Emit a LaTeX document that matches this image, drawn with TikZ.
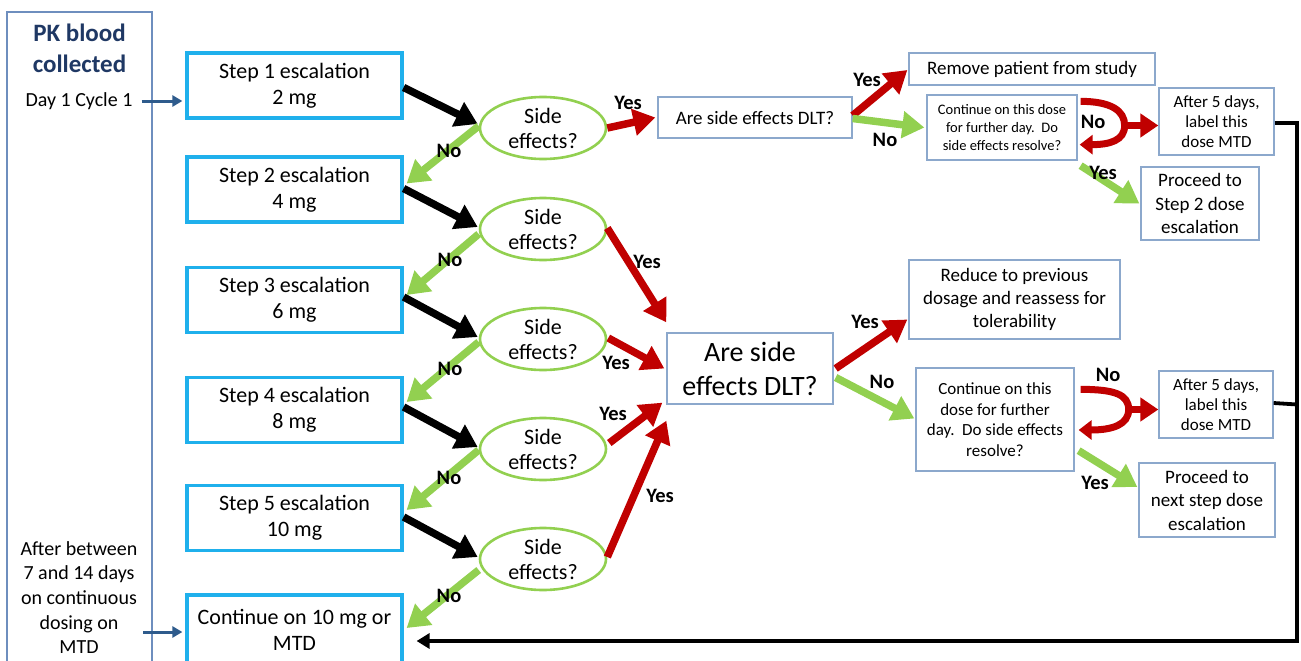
\documentclass[tikz,border=0pt]{standalone}
\usepackage{fontspec}
\setmainfont{Carlito}
\usetikzlibrary{arrows.meta,calc,shapes.geometric}
\definecolor{cred}{HTML}{C00000}
\definecolor{cgreen}{HTML}{92D050}
\definecolor{cblue}{HTML}{1FB0EC}
\definecolor{cthin}{HTML}{8CA8CC}
\definecolor{cpanel}{HTML}{6E8EBE}
\definecolor{cnavy}{HTML}{1F3864}
\definecolor{carrowblue}{HTML}{2E5B8C}
\begin{document}
\begin{tikzpicture}[x=1pt,y=-1pt,
 stepbox/.style={draw=cblue, line width=3.2pt, minimum width=215pt, minimum height=65pt, align=center, font=\fontsize{22}{26}\selectfont, inner sep=0pt},
 sidebox/.style={ellipse, draw=cgreen, line width=2.6pt, minimum width=126pt, minimum height=62pt, align=center, inner sep=0pt, font=\fontsize{22}{25}\selectfont},
 thinbox/.style={draw=cthin, line width=1.3pt, align=center, inner sep=0pt},
 fatarrow/.style={line width=7.5pt, -{Triangle[length=22pt,width=26pt]}},
 blk/.style={fatarrow, draw=black},
 redarr/.style={fatarrow, draw=cred},
 grnarr/.style={fatarrow, draw=cgreen},
 uarr/.style={line width=7pt, draw=cred, -{Triangle[length=13pt,width=19pt]}},
 lbl/.style={font=\bfseries\fontsize{20.5}{20}\selectfont, inner sep=0pt},
 retline/.style={line width=3.8pt, draw=black},
]
\useasboundingbox (0,0) rectangle (1301,661);

% left panel
\node[draw=cpanel, line width=1.5pt, minimum width=145pt, minimum height=665pt, inner sep=0pt] (panel) at (79.5,344.5) {};
\node[font=\bfseries\fontsize{25}{31}\selectfont, text=cnavy, align=center, inner sep=0pt] (pk) at (79.5,48.5) {PK blood\\collected};
\node[font=\fontsize{20}{24}\selectfont, inner sep=0pt] (day) at (79,101) {Day 1 Cycle 1};
\node[font=\fontsize{20}{24.7}\selectfont, align=center, inner sep=0pt] (after) at (79,597.5) {After between\\7 and 14 days\\on continuous\\dosing on\\MTD};

% step boxes
\node[stepbox] (s1) at (294.5,85.5) {Step 1 escalation\\2 mg};
\node[stepbox] (s2) at (294.5,189.5) {Step 2 escalation\\4 mg};
\node[stepbox] (s3) at (294.5,300) {Step 3 escalation\\6 mg};
\node[stepbox] (s4) at (294.5,410) {Step 4 escalation\\8 mg};
\node[stepbox] (s5) at (294.5,518) {Step 5 escalation\\10 mg};
\node[stepbox, minimum height=70pt] (s6) at (294.5,630) {Continue on 10 mg or\\MTD};

% ellipses
\node[sidebox] (e1) at (543,128) {Side\\effects?};
\node[sidebox] (e2) at (543,229) {Side\\effects?};
\node[sidebox] (e3) at (543,339) {Side\\effects?};
\node[sidebox] (e4) at (543,449) {Side\\effects?};
\node[sidebox] (e5) at (543,559) {Side\\effects?};

% decision boxes
\node[thinbox, minimum width=194pt, minimum height=41pt, font=\fontsize{19}{23}\selectfont] (d1) at (755,117.5) {Are side effects DLT?};
\node[thinbox, minimum width=166pt, minimum height=71pt, font=\fontsize{28}{34}\selectfont] (D) at (750,368.5) {Are side\\effects DLT?};

% upper right
\node[thinbox, minimum width=246pt, minimum height=32pt, font=\fontsize{19}{23}\selectfont] (rm) at (1032,69) {Remove patient from study};
\node[thinbox, minimum width=150pt, minimum height=65pt, font=\fontsize{14.5}{18}\selectfont] (c1) at (1002,127.5) {Continue on this dose\\for further day.\ \ Do\\side effects resolve?};
\node[thinbox, minimum width=115pt, minimum height=67pt, font=\fontsize{17}{20}\selectfont] (a1) at (1216.5,121.5) {After 5 days,\\label this\\dose MTD};
\node[thinbox, minimum width=118pt, minimum height=73pt, font=\fontsize{19}{23.5}\selectfont] (p1) at (1200,203.5) {Proceed to\\Step 2 dose\\escalation};

% lower right
\node[thinbox, minimum width=211pt, minimum height=79pt, font=\fontsize{19}{23}\selectfont] (rd) at (1014.5,299.5) {Reduce to previous\\dosage and reassess for\\tolerability};
\node[thinbox, minimum width=158pt, minimum height=103pt, font=\fontsize{17}{20.5}\selectfont] (c2) at (995,419.5) {Continue on this\\dose for further\\day.\ \ Do side effects\\resolve?};
\node[thinbox, minimum width=114pt, minimum height=67pt, font=\fontsize{17}{20}\selectfont] (a2) at (1216,404.5) {After 5 days,\\label this\\dose MTD};
\node[thinbox, minimum width=136pt, minimum height=74pt, font=\fontsize{19}{23.5}\selectfont] (p2) at (1207,500) {Proceed to\\next step dose\\escalation};

% entry arrows
\draw[carrowblue, line width=3pt, -{Triangle[length=10pt,width=11pt]}] ($(day.east)+(9,0)$) -- ($(s1.west)+(-3,15.5)$);
\coordinate (afterpt) at (143,632);
\draw[carrowblue, line width=3pt, -{Triangle[length=10pt,width=11pt]}] (afterpt) -- ($(s6.west)+(-3,2)$);

% black arrows step -> ellipse
\draw[blk] ($(s1.east)+(0,2)$) -- ($(e1.west)+(-1,-4)$);
\draw[blk] ($(s2.east)+(0,-1)$) -- ($(e2.west)+(-1,-2)$);
\draw[blk] ($(s3.east)+(0,-3)$) -- ($(e3.west)+(-1,-2)$);
\draw[blk] ($(s4.east)+(0,-3)$) -- ($(e4.west)+(-1,-2)$);
\draw[blk] ($(s5.east)+(0,-1)$) -- ($(e5.west)+(-1,-2)$);

% green No arrows
\draw[grnarr] ($(e1.west)+(0,-2)$) -- ($(s2.east)+(3,-6)$);
\draw[grnarr] ($(e2.west)+(0,5)$) -- ($(s3.east)+(3,-5)$);
\draw[grnarr] ($(e3.west)+(0,3)$) -- ($(s4.east)+(3,-8)$);
\draw[grnarr] ($(e4.west)+(0,1)$) -- ($(s5.east)+(3,-8)$);
\draw[grnarr] ($(e5.west)+(0,11)$) -- ($(s6.east)+(3,-2)$);
\node[lbl] (n1) at (449,151) {No};
\node[lbl] (n2) at (450,260) {No};
\node[lbl] (n3) at (450,369) {No};
\node[lbl] (n4) at (449,478) {No};
\node[lbl] (n5) at (449,596) {No};

% red Yes arrows from ellipses
\draw[redarr] (e1.east) -- ($(d1.west)+(-2,0)$);
\draw[redarr] ($(e2.east)+(0,-1)$) -- ($(D.north west)+(0,-10)$);
\draw[redarr] ($(e3.east)+(1,-1)$) -- ($(D.west)+(-2,0)$);
\draw[redarr] ($(e4.east)+(2,-6)$) -- ($(D.south west)+(-4,-2)$);
\draw[redarr] ($(e5.east)+(0,-2)$) -- ($(D.south west)+(0,16)$);
\node[lbl] (y1) at (628,103) {Yes};
\node[lbl] (y2) at (647,262) {Yes};
\node[lbl] (y3) at (616,363) {Yes};
\node[lbl] (y4) at (613,414) {Yes};
\node[lbl] (y5) at (660,496) {Yes};

% upper decision
\draw[redarr] ($(d1.east)+(0,-2)$) -- ($(rm.west)+(-1,1)$);
\draw[grnarr] ($(d1.east)+(0,1)$) -- ($(c1.west)+(-2,0)$);
\node[lbl] (y6) at (867,80) {Yes};
\node[lbl] (n6) at (885,140) {No};

\coordinate (u1t) at ($(c1.north east)+(3,7)$);
\coordinate (u1m) at ($(c1.east)+(47,-2)$);
\coordinate (u1b) at ($(c1.south east)+(2,-16)$);
\draw[uarr] (u1t) .. controls ($(u1t)+(30,0)$) and ($(u1m)+(0,-15)$) .. (u1m) .. controls ($(u1m)+(0,15)$) and ($(u1b)+(30,0)$) .. (u1b);
\draw[line width=7pt, draw=cred, -{Triangle[length=18pt,width=23pt]}] ($(u1m)+(-3,0)$) -- (a1.west |- u1m);
\node[lbl] (n7) at (1093,122) {No};
\draw[grnarr] ($(c1.south east)+(3,5)$) -- ($(p1.west)+(-1,0)$);
\node[lbl] (y7) at (1103,173) {Yes};

% lower decision
\draw[redarr] ($(D.east)+(2,0)$) -- ($(rd.west)+(-1,20)$);
\draw[grnarr] ($(D.east)+(2,9)$) -- ($(c2.west)+(-1,-1)$);
\node[lbl] (y8) at (865,322) {Yes};
\node[lbl] (n8) at (882,382) {No};

\coordinate (u2t) at ($(c2.north east)+(6,22)$);
\coordinate (u2m) at ($(c2.east)+(54,-10)$);
\coordinate (u2b) at ($(c2.east)+(4,10.5)$);
\draw[uarr] (u2t) .. controls ($(u2t)+(34,0)$) and ($(u2m)+(0,-15)$) .. (u2m) .. controls ($(u2m)+(0,15)$) and ($(u2b)+(34,0)$) .. (u2b);
\draw[line width=7pt, draw=cred, -{Triangle[length=18pt,width=23pt]}] ($(u2m)+(-3,0)$) -- (a2.west |- u2m);
\node[lbl] (n9) at (1108,375) {No};
\draw[grnarr] ($(c2.south east)+(4,-21)$) -- ($(p2.west)+(-1,-13)$);
\node[lbl] (y9) at (1095,483) {Yes};

% return line
\coordinate (corner) at (1297,641);
\draw[retline, -{Triangle[length=13pt,width=15pt]}] ($(a1.east)+(0,1.5)$) -| (corner) -- ($(s6.east)+(13,11)$);
\draw[retline] ($(a2.east)+(0,-1.5)$) -- (corner |- a2.east);
\end{tikzpicture}
\end{document}
